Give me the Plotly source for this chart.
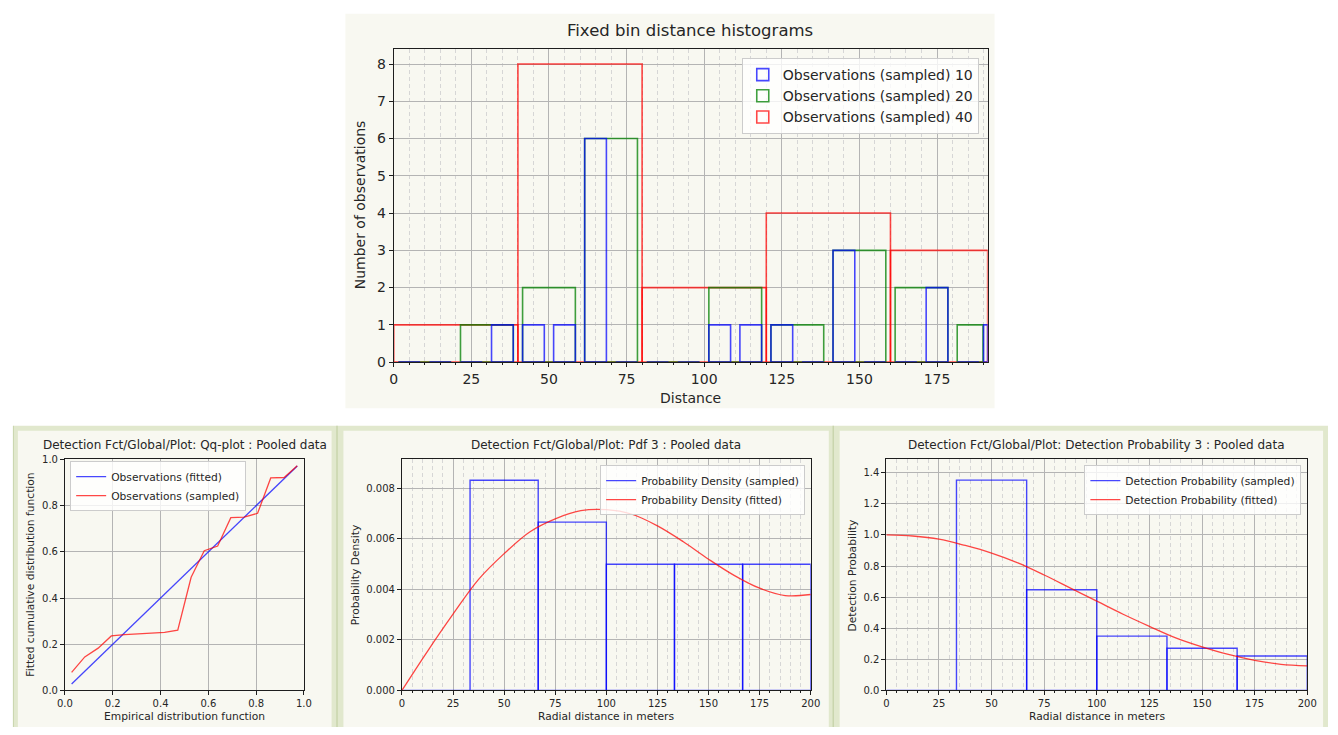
import plotly.graph_objects as go

W, H = 1338, 735

# ---------------- data ----------------
# Top: fixed bin distance histograms (counts per bin)
hist10_edges = [0, 10, 20, 30, 40, 50, 60, 70, 80, 90, 100, 110, 120, 130, 140, 150, 160, 170, 180, 190, 191.3]
hist10_counts = [0, 0, 0, 1, 1, 1, 6, 0, 0, 0, 1, 1, 1, 0, 3, 0, 0, 2, 0, 1]
hist20_edges = [0, 20, 40, 60, 80, 100, 120, 140, 160, 180, 191.3]
hist20_counts = [0, 1, 2, 6, 0, 2, 1, 3, 2, 1]
hist40_edges = [0, 40, 80, 120, 160, 191.3]
hist40_counts = [1, 8, 2, 4, 3]

# Qq-plot
qq_empirical = [0.028, 0.083, 0.139, 0.194, 0.25, 0.306, 0.361, 0.417, 0.472,
                0.528, 0.583, 0.639, 0.694, 0.75, 0.806, 0.861, 0.917, 0.972]
qq_fitted = [0.028, 0.083, 0.139, 0.194, 0.25, 0.306, 0.361, 0.417, 0.472,
             0.528, 0.583, 0.639, 0.694, 0.75, 0.806, 0.861, 0.917, 0.972]
qq_sampled = [0.078, 0.145, 0.183, 0.236, 0.242, 0.246, 0.249, 0.251, 0.261,
              0.49, 0.605, 0.625, 0.748, 0.75, 0.767, 0.92, 0.922, 0.973]

# Pdf and detection probability (pooled data)
radial_edges = [0, 33.33, 66.67, 100, 133.33, 166.67, 200]
pdf_sampled = [0, 0.00833, 0.00667, 0.005, 0.005, 0.005]
dp_sampled = [0, 1.352, 0.647, 0.349, 0.271, 0.221]

curve_r = [0, 12.5, 25, 37.5, 50, 62.5, 75, 87.5, 100, 112.5, 125, 137.5, 150, 162.5, 175, 187.5, 200]
pdf_fitted = [0, 0.00155, 0.00302, 0.0044, 0.00542, 0.00628, 0.0068, 0.00712, 0.00716,
              0.00698, 0.00652, 0.0059, 0.0052, 0.00456, 0.00405, 0.00376, 0.0038]
dp_fitted = [1.0, 0.993, 0.973, 0.932, 0.883, 0.82, 0.742, 0.658, 0.574,
             0.49, 0.412, 0.338, 0.28, 0.231, 0.193, 0.168, 0.158]

# ---------------- style ----------------
FONT = "DejaVu Sans"
TXT = "#262626"
CREAM = "#f8f8f1"
FRAME = "#e1e8cd"
SEP = "#c9d5ad"
BLUE = "rgba(0,0,255,0.72)"
GREEN = "rgba(0,128,0,0.75)"
RED = "rgba(255,0,0,0.72)"
GRID = "#b4b4b4"
MINOR_GRID = "#d6d6d6"


def px_x(p):
    return p / W


def px_y(p):
    return 1 - p / H


def bar_geometry(edges, counts, gap):
    cx, wd, hh = [], [], []
    zx, zy = [], []
    for i, c in enumerate(counts):
        a, b = edges[i], edges[i + 1]
        if b - a > 2 * gap:
            a, b = a + gap, b - gap
        if c > 0:
            cx.append((a + b) / 2)
            wd.append(b - a)
            hh.append(c)
        else:
            zx += [a, b, None]
            zy += [0, 0, None]
    return cx, wd, hh, zx, zy


def rect_path(edges, heights):
    xs, ys = [], []
    for i, h in enumerate(heights):
        a, b = edges[i], edges[i + 1]
        xs += [a, a, b, b, a, None]
        ys += [0, h, h, 0, 0, None]
    return xs, ys


fig = go.Figure()

# ---- top histograms ----
series = [
    (hist40_edges, hist40_counts, 0.0, RED, "Observations (sampled) 40"),
    (hist20_edges, hist20_counts, 1.5, GREEN, "Observations (sampled) 20"),
    (hist10_edges, hist10_counts, 1.5, BLUE, "Observations (sampled) 10"),
]
for edges, counts, gap, col, name in series:
    cx, wd, hh, zx, zy = bar_geometry(edges, counts, gap)
    fig.add_trace(go.Scatter(x=zx, y=zy, mode="lines", line=dict(color=col, width=1.5),
                             showlegend=False, hoverinfo="skip", xaxis="x", yaxis="y"))
    fig.add_trace(go.Bar(x=cx, y=hh, width=wd, base=0, name=name,
                         marker=dict(color="rgba(0,0,0,0)", line=dict(color=col, width=1.6)),
                         xaxis="x", yaxis="y", legend="legend"))

# ---- Qq plot ----
fig.add_trace(go.Scatter(x=qq_empirical, y=qq_fitted, mode="lines", name="Observations (fitted)",
                         line=dict(color=BLUE, width=1.3), xaxis="x2", yaxis="y2", legend="legend2"))
fig.add_trace(go.Scatter(x=qq_empirical, y=qq_sampled, mode="lines", name="Observations (sampled)",
                         line=dict(color=RED, width=1.3), xaxis="x2", yaxis="y2", legend="legend2"))

# ---- Pdf ----
xs, ys = rect_path(radial_edges, pdf_sampled)
fig.add_trace(go.Scatter(x=xs, y=ys, mode="lines", name="Probability Density (sampled)",
                         line=dict(color=BLUE, width=1.4), xaxis="x3", yaxis="y3", legend="legend3"))
fig.add_trace(go.Scatter(x=curve_r, y=pdf_fitted, mode="lines", name="Probability Density (fitted)",
                         line=dict(color=RED, width=1.3, shape="spline", smoothing=1.0),
                         xaxis="x3", yaxis="y3", legend="legend3"))

# ---- Detection probability ----
xs, ys = rect_path(radial_edges, dp_sampled)
fig.add_trace(go.Scatter(x=xs, y=ys, mode="lines", name="Detection Probability (sampled)",
                         line=dict(color=BLUE, width=1.4), xaxis="x4", yaxis="y4", legend="legend4"))
fig.add_trace(go.Scatter(x=curve_r, y=dp_fitted, mode="lines", name="Detection Probability (fitted)",
                         line=dict(color=RED, width=1.3, shape="spline", smoothing=1.0),
                         xaxis="x4", yaxis="y4", legend="legend4"))


def axis(domain, rng, dtick, size, tickformat=None, minor=False, anchor=None):
    d = dict(domain=domain, range=rng, dtick=dtick, tick0=0, showline=True, linecolor="#1e1e1e",
             linewidth=1, mirror=True, ticks="outside", ticklen=4, tickcolor="#1e1e1e",
             showgrid=True, gridcolor=GRID, gridwidth=1, zeroline=False,
             tickfont=dict(family=FONT, size=size, color=TXT), anchor=anchor, fixedrange=True)
    if tickformat:
        d["tickformat"] = tickformat
    if minor:
        d["minor"] = dict(dtick=5, tick0=0, ticks="outside", ticklen=2, tickcolor="#1e1e1e",
                          showgrid=True, gridcolor=MINOR_GRID, griddash="4px,3px", gridwidth=1)
    return d


bottom_y = [px_y(697.7), px_y(462.3)]

fig.update_layout(
    width=W, height=H, autosize=False,
    margin=dict(l=0, r=0, t=0, b=0),
    paper_bgcolor="white", plot_bgcolor=CREAM,
    barmode="overlay", bargap=0, hovermode=False,
    font=dict(family=FONT, color=TXT),
    xaxis=axis([px_x(391), px_x(993)], [0, 191.3], 25, 14, minor=True, anchor="y"),
    yaxis=axis([px_y(363), px_y(44)], [0, 8.4], 1, 14, anchor="x"),
    xaxis2=axis([px_x(57.7), px_x(300)], [0, 1], 0.2, 10, tickformat=".1f", anchor="y2"),
    yaxis2=axis(bottom_y, [0, 1], 0.2, 10, tickformat=".1f", anchor="x2"),
    xaxis3=axis([px_x(399.3), px_x(813.7)], [0, 200], 25, 10, minor=True, anchor="y3"),
    yaxis3=axis(bottom_y, [0, 0.00915], 0.002, 10, tickformat=".3f", anchor="x3"),
    xaxis4=axis([px_x(890.3), px_x(1317)], [0, 200], 25, 10, minor=True, anchor="y4"),
    yaxis4=axis(bottom_y, [0, 1.485], 0.2, 10, tickformat=".1f", anchor="x4"),
)

leg_common = dict(xref="paper", yref="paper", bgcolor="rgba(255,255,255,0.8)",
                  bordercolor="#cccccc", borderwidth=1, itemwidth=30)
fig.update_layout(
    legend=dict(x=px_x(984), y=px_y(53), xanchor="right", yanchor="top", traceorder="reversed",
                font=dict(family=FONT, size=14, color=TXT), **leg_common),
    legend2=dict(x=px_x(63), y=px_y(464), xanchor="left", yanchor="top",
                 font=dict(family=FONT, size=10.7, color=TXT), **leg_common),
    legend3=dict(x=px_x(808), y=px_y(468), xanchor="right", yanchor="top",
                 font=dict(family=FONT, size=10.7, color=TXT), **leg_common),
    legend4=dict(x=px_x(1311), y=px_y(468), xanchor="right", yanchor="top",
                 font=dict(family=FONT, size=10.7, color=TXT), **leg_common),
)

# ---- panel backgrounds ----
shapes = [
    dict(type="rect", xref="paper", yref="paper", x0=px_x(342), x1=px_x(1000), y0=px_y(410), y1=px_y(8),
         fillcolor=CREAM, line=dict(width=0), layer="below"),
    dict(type="rect", xref="paper", yref="paper", x0=px_x(5), x1=px_x(1338), y0=px_y(735), y1=px_y(428),
         fillcolor=FRAME, line=dict(width=0), layer="below"),
]
for a, b in [(10, 328), (340, 832), (843, 1333)]:
    shapes.append(dict(type="rect", xref="paper", yref="paper", x0=px_x(a), x1=px_x(b),
                       y0=px_y(735), y1=px_y(433), fillcolor=CREAM, line=dict(width=0), layer="below"))
for s in [333.5, 836.5]:
    shapes.append(dict(type="line", xref="paper", yref="paper", x0=px_x(s), x1=px_x(s),
                       y0=px_y(735), y1=px_y(428), line=dict(color=SEP, width=1.5), layer="below"))
shapes.append(dict(type="line", xref="paper", yref="paper", x0=px_x(5.5), x1=px_x(5.5),
                   y0=px_y(735), y1=px_y(428), line=dict(color=SEP, width=1), layer="below"))
fig.update_layout(shapes=shapes)


def ann(text, x, y, size, angle=0):
    return dict(text=text, x=px_x(x), y=px_y(y), xref="paper", yref="paper", showarrow=False,
                xanchor="center", yanchor="middle", textangle=angle,
                font=dict(family=FONT, size=size, color=TXT))


fig.update_layout(annotations=[
    ann("Fixed bin distance histograms", 691, 25, 16.5),
    ann("Number of observations", 357, 203, 14, -90),
    ann("Distance", 692, 400, 14),
    ann("Detection Fct/Global/Plot: Qq-plot : Pooled data", 179, 447.5, 12),
    ann("Fitted cumulative distribution function", 23, 580, 10.7, -90),
    ann("Empirical distribution function", 179, 724, 10.7),
    ann("Detection Fct/Global/Plot: Pdf 3 : Pooled data", 606, 447.5, 12),
    ann("Probability Density", 353, 580, 10.7, -90),
    ann("Radial distance in meters", 606, 724, 10.7),
    ann("Detection Fct/Global/Plot: Detection Probability 3 : Pooled data", 1103.5, 447.5, 12),
    ann("Detection Probability", 856, 580, 10.7, -90),
    ann("Radial distance in meters", 1103.5, 724, 10.7),
])

fig.write_html(
    "out.html",
    config={"displayModeBar": False, "staticPlot": True},
    post_script="document.body.style.margin='0';document.body.style.overflow='hidden';",
)
